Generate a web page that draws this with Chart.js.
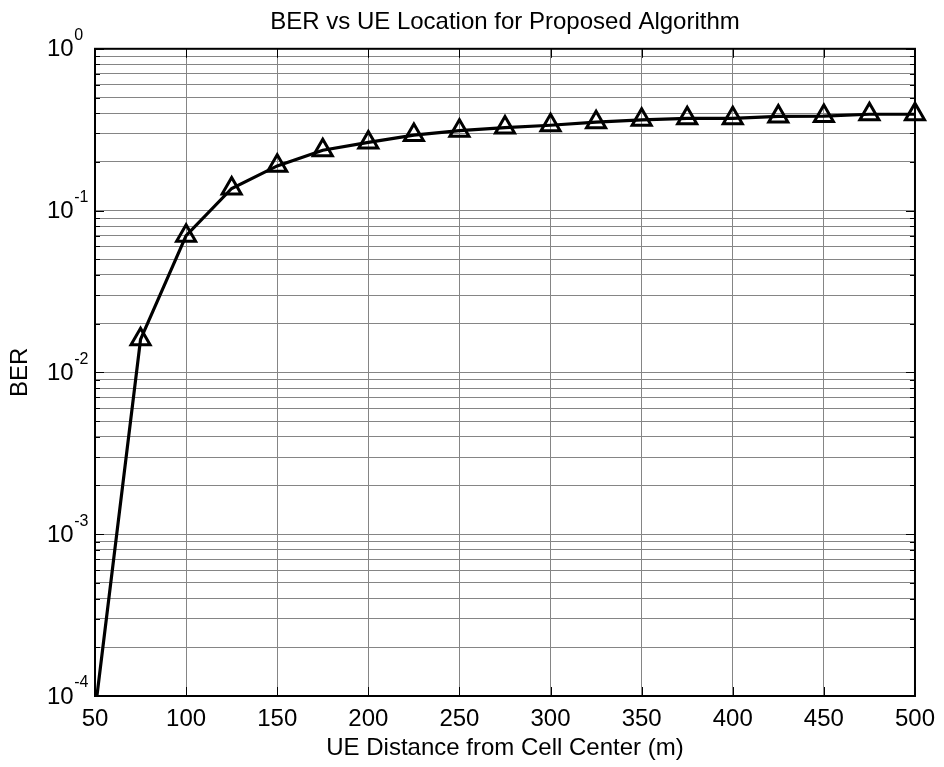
<!DOCTYPE html>
<html>
<head>
<meta charset="utf-8">
<script src="https://cdn.jsdelivr.net/npm/chart.js@4.4.1/dist/chart.umd.min.js"></script>
<style>
body { margin: 0; background: #fff; }
</style>
</head>
<body>
<canvas id="ber-vs-location" width="944" height="767"></canvas>
<script>
// values
var distances = [50, 75, 100, 125, 150, 175, 200, 225, 250, 275, 300, 325, 350, 375, 400, 425, 450, 475, 500];
var berValues = [0.00008, 0.016, 0.070, 0.137, 0.189, 0.236, 0.264, 0.293, 0.312, 0.326, 0.337, 0.352, 0.364, 0.372, 0.372, 0.382, 0.384, 0.394, 0.394];
var xTicks = [50, 100, 150, 200, 250, 300, 350, 400, 450, 500];
var yExponents = [-4, -3, -2, -1, 0];

var FONT = 'Liberation Sans, Arial, sans-serif';

// every 1..9 x 10^e line of the log grid
var yGridValues = [];
yExponents.forEach(function (e) {
    if (e === 0) { yGridValues.push(1); return; }
    for (var k = 1; k < 10; k++) {
        yGridValues.push(+(k * Math.pow(10, e)).toPrecision(3));
    }
});

var points = distances.map(function (d, i) {
    return { x: d, y: berValues[i] };
});

var matlabAxes = {
    id: 'matlabAxes',
    beforeDatasetsDraw: function (chart) {
        var ctx = chart.ctx;
        var a = chart.chartArea;
        var xs = chart.scales.x;
        var ys = chart.scales.y;
        ctx.save();
        ctx.strokeStyle = '#000';
        ctx.lineWidth = 1;
        ctx.beginPath();
        xTicks.forEach(function (t) {
            var px = Math.round(xs.getPixelForValue(t)) + 0.5;
            ctx.moveTo(px, a.bottom); ctx.lineTo(px, a.bottom - 9);
            ctx.moveTo(px, a.top); ctx.lineTo(px, a.top + 9);
        });
        yGridValues.forEach(function (v) {
            var py = Math.round(ys.getPixelForValue(v)) + 0.5;
            var len = Math.abs(Math.log10(v) % 1) < 1e-6 ? 9 : 5;
            ctx.moveTo(a.left, py); ctx.lineTo(a.left + len, py);
            ctx.moveTo(a.right, py); ctx.lineTo(a.right - len, py);
        });
        ctx.stroke();
        ctx.lineWidth = 2;
        ctx.strokeRect(a.left, a.top, a.right - a.left, a.bottom - a.top);
        ctx.restore();
    },
    afterDraw: function (chart) {
        var ctx = chart.ctx;
        var ys = chart.scales.y;
        ctx.save();
        ctx.fillStyle = '#000';
        ctx.textBaseline = 'middle';
        ctx.textAlign = 'left';
        yExponents.forEach(function (e) {
            var py = ys.getPixelForValue(Math.pow(10, e));
            ctx.font = '24px ' + FONT;
            ctx.fillText('10', 47, py + 1);
            var w = ctx.measureText('10').width;
            ctx.font = '16px ' + FONT;
            ctx.fillText(String(e), 47 + w + 0.5, py - 13);
        });
        ctx.restore();
    }
};

new Chart(document.getElementById('ber-vs-location').getContext('2d'), {
    type: 'line',
    data: {
        datasets: [{
            label: 'Proposed Algorithm',
            data: points,
            borderColor: '#000',
            borderWidth: 3.2,
            pointStyle: 'triangle',
            pointRadius: distances.map(function (d, i) { return i === 0 ? 0 : 11; }),
            pointBorderWidth: 3,
            pointBorderColor: '#000',
            pointBackgroundColor: 'rgba(0,0,0,0)',
            fill: false,
            tension: 0,
            clip: { left: 0, top: 0, right: 16, bottom: 0 }
        }]
    },
    options: {
        responsive: false,
        animation: false,
        devicePixelRatio: 1,
        layout: { padding: { left: 0, right: 26, top: 0, bottom: 0 } },
        plugins: {
            legend: { display: false },
            tooltip: { enabled: false },
            title: {
                display: true,
                fullSize: false,
                text: 'BER vs UE Location for Proposed Algorithm',
                color: '#000',
                font: { family: FONT, size: 24, weight: 'normal' },
                padding: { top: 8, bottom: 12 }
            }
        },
        scales: {
            x: {
                type: 'linear',
                min: 50,
                max: 500,
                afterBuildTicks: function (s) {
                    s.ticks = xTicks.map(function (v) { return { value: v }; });
                },
                afterFit: function (s) { s.height = 71; },
                ticks: {
                    color: '#000',
                    font: { family: FONT, size: 24 },
                    padding: 9,
                    maxRotation: 0,
                    autoSkip: false
                },
                grid: { color: '#858585', lineWidth: 1, drawTicks: false },
                border: { display: false },
                title: {
                    display: true,
                    text: 'UE Distance from Cell Center (m)',
                    color: '#000',
                    font: { family: FONT, size: 24 },
                    padding: { top: 0, bottom: 4 }
                }
            },
            y: {
                type: 'logarithmic',
                min: 0.0001,
                max: 1,
                afterBuildTicks: function (s) {
                    s.ticks = yGridValues.map(function (v) { return { value: v }; });
                },
                afterFit: function (s) { s.width = 95; },
                ticks: { display: false, autoSkip: false },
                grid: { color: '#858585', lineWidth: 1, drawTicks: false },
                border: { display: false },
                title: {
                    display: true,
                    text: 'BER',
                    color: '#000',
                    font: { family: FONT, size: 24 },
                    padding: { top: 6, bottom: 0 }
                }
            }
        }
    },
    plugins: [matlabAxes]
});
</script>
</body>
</html>
